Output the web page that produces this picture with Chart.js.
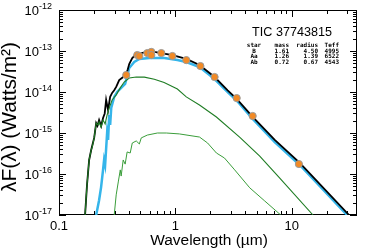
<!DOCTYPE html>
<html>
<head>
<meta charset="utf-8">
<script src="https://cdn.jsdelivr.net/npm/chart.js@4.4.1/dist/chart.umd.min.js"></script>
<style>
  html, body { margin: 0; padding: 0; background: #fff; }
  canvas { display: block; }
</style>
</head>
<body>
<canvas id="sed" width="365" height="252"></canvas>
<script>
// total model SED (black)
const totalLam = [0.1675, 0.174, 0.1815, 0.189, 0.2005, 0.2086, 0.214, 0.221, 0.230, 0.239, 0.247, 0.254, 0.264, 0.275, 0.286, 0.298, 0.310, 0.329, 0.356, 0.378, 0.390, 0.401, 0.426, 0.461, 0.509, 0.574, 0.659, 0.757, 0.942, 1.24, 1.61, 2.17, 2.81, 3.36, 4.61, 7.13, 11.7, 31.0];
const totalFlux = [1e-17, 5.4e-17, 2.2e-16, 3.85e-16, 7.6e-16, 1.75e-15, 1.5e-15, 2.07e-15, 1.48e-15, 2.32e-15, 3.0e-15, 6.4e-15, 3.6e-15, 7.6e-15, 9.5e-15, 1.1e-14, 1.33e-14, 1.96e-14, 2.32e-14, 2.75e-14, 3.6e-14, 4.8e-14, 6.7e-14, 8.45e-14, 8.9e-14, 9.5e-14, 9.5e-14, 8.9e-14, 7.97e-14, 6.4e-14, 4.56e-14, 2.32e-14, 1.1e-14, 6.76e-15, 2.46e-15, 6.8e-16, 1.86e-16, 1e-17];

// star B (cyan)
const starBLam = [0.2086, 0.221, 0.230, 0.239, 0.244, 0.249, 0.259, 0.264, 0.270, 0.275, 0.281, 0.298, 0.316, 0.342, 0.370, 0.401, 0.443, 0.49, 0.597, 0.803, 1.04, 1.24, 1.61, 2.17, 2.81, 3.36, 4.61, 7.13, 11.7, 29.8];
const starBFlux = [1e-17, 2.3e-17, 4.8e-17, 1.26e-16, 2.2e-16, 1.66e-16, 1e-15, 6.8e-16, 2.75e-15, 1.58e-15, 4.1e-15, 7.6e-15, 1e-14, 1.26e-14, 1.58e-14, 3.85e-14, 5.4e-14, 6.4e-14, 6.76e-14, 6.76e-14, 6.0e-14, 5.4e-14, 4.07e-14, 2.07e-14, 1.0e-14, 6.2e-15, 2.2e-15, 6.0e-16, 1.66e-16, 1e-17];

// star Aa (darker green)
const starAaLam = [0.1675, 0.174, 0.1815, 0.189, 0.193, 0.2005, 0.2086, 0.217, 0.221, 0.230, 0.239, 0.249, 0.259, 0.270, 0.286, 0.310, 0.336, 0.363, 0.401, 0.461, 0.541, 0.659, 0.80, 1.04, 1.24, 1.61, 2.25, 3.56, 5.30, 7.88, 15.2];
const starAaFlux = [1e-17, 5.4e-17, 2.2e-16, 3.85e-16, 4.6e-16, 7.6e-16, 1.75e-15, 1.57e-15, 1.86e-15, 1.4e-15, 2.07e-15, 1.66e-15, 2.75e-15, 4.1e-15, 6.4e-15, 8.5e-15, 1.26e-14, 1.75e-14, 2.2e-14, 2.32e-14, 2.3e-14, 2.05e-14, 1.7e-14, 1.18e-14, 7.6e-15, 4.8e-15, 2.45e-15, 7.9e-16, 2.74e-16, 7.9e-17, 1e-17];

// star Ab (lighter green)
const starAbLam = [0.298, 0.310, 0.323, 0.336, 0.342, 0.356, 0.370, 0.385, 0.409, 0.426, 0.461, 0.49, 0.509, 0.574, 0.700, 0.836, 1.08, 1.61, 1.89, 2.25, 2.64, 3.23, 4.35, 5.85, 8.03];
const starAbFlux = [1e-17, 3.1e-17, 6.4e-17, 1.26e-16, 8.9e-17, 2.2e-16, 1.74e-16, 3.45e-16, 3.25e-16, 5.7e-16, 6.4e-16, 5.4e-16, 7.6e-16, 8.9e-16, 1e-15, 1e-15, 9.5e-16, 7.97e-16, 5.7e-16, 3.25e-16, 2.45e-16, 1.26e-16, 4.6e-17, 2.2e-17, 1e-17];

// photometry (orange)
const photLam = [0.378, 0.470, 0.49, 0.574, 0.621, 0.621, 0.757, 0.942, 1.24, 1.64, 2.17, 3.36, 4.61, 11.5];
const photFlux = [2.6e-14, 7.97e-14, 7.55e-14, 8.9e-14, 9.5e-14, 7.97e-14, 8.9e-14, 7.55e-14, 6.0e-14, 4.3e-14, 2.32e-14, 7.1e-15, 2.6e-15, 1.75e-16];

const xTicks = [0.1, 1, 10];
const yTicks = [1e-12, 1e-13, 1e-14, 1e-15, 1e-16, 1e-17];

const tableHead = ["star", "mass", "radius", "Teff"];
const tableRows = [
  ["B", "1.61", "4.50", "4995"],
  ["Aa", "1.26", "1.39", "6522"],
  ["Ab", "0.72", "0.67", "4543"],
];

const SANS = '"Liberation Sans", Arial, sans-serif';

function toPoints(lam, flux) {
  return lam.map((l, i) => ({ x: l, y: flux[i] }));
}

function fitFont(ctx, text, width, weight) {
  let size = 20;
  ctx.font = `${weight || ""} ${size}px ${SANS}`;
  size = size * width / ctx.measureText(text).width;
  return `${weight || ""} ${size.toFixed(1)}px ${SANS}`;
}

const decorations = {
  id: "decorations",
  beforeDatasetsDraw(chart) {
    const { ctx, chartArea: a, scales } = chart;
    const xs = scales.x, ys = scales.y;
    ctx.save();
    ctx.strokeStyle = "#000";
    ctx.lineWidth = 1;
    ctx.strokeRect(a.left + 0.5, a.top + 0.5, a.right - a.left - 1, a.bottom - a.top - 1);

    ctx.beginPath();
    // x ticks, bottom and top
    for (let d = -1; d <= 1; d++) {
      for (let m = 1; m <= 9; m++) {
        const v = m * Math.pow(10, d);
        if (v < xs.min || v > xs.max) continue;
        const px = Math.round(xs.getPixelForValue(v)) + 0.5;
        const len = m === 1 ? 7 : 4;
        ctx.moveTo(px, a.bottom);
        ctx.lineTo(px, a.bottom - len);
        ctx.moveTo(px, a.top);
        ctx.lineTo(px, a.top + len);
      }
    }
    // y ticks, left and right
    for (let d = -17; d <= -13; d++) {
      for (let m = 1; m <= 9; m++) {
        const v = m * Math.pow(10, d);
        const py = Math.round(ys.getPixelForValue(v)) + 0.5;
        const len = m === 1 ? 7 : 4;
        ctx.moveTo(a.left, py);
        ctx.lineTo(a.left + len, py);
        ctx.moveTo(a.right, py);
        ctx.lineTo(a.right - len, py);
      }
    }
    ctx.stroke();
    ctx.restore();
  },
  afterDraw(chart) {
    const { ctx, chartArea: a, scales } = chart;
    const xs = scales.x, ys = scales.y;
    ctx.save();
    ctx.fillStyle = "#000";

    // x tick labels
    ctx.font = `13px ${SANS}`;
    ctx.textAlign = "center";
    ctx.textBaseline = "alphabetic";
    xTicks.forEach((v) => {
      ctx.fillText(String(v), xs.getPixelForValue(v), a.bottom + 15);
    });

    // y tick labels with superscript exponent
    yTicks.forEach((v) => {
      const py = ys.getPixelForValue(v);
      const exp = "-" + Math.round(-Math.log10(v));
      ctx.font = `9px ${SANS}`;
      ctx.textAlign = "right";
      const ew = ctx.measureText(exp).width;
      ctx.fillText(exp, a.left - 7, py - 1);
      ctx.font = `13px ${SANS}`;
      ctx.fillText("10", a.left - 7 - ew, py + 5);
    });

    // axis titles
    const xt = "Wavelength (\u00b5m)";
    ctx.font = fitFont(ctx, xt, 118);
    ctx.textAlign = "center";
    ctx.fillText(xt, (a.left + a.right) / 2 + 1, 245);

    const yt = "\u03bbF(\u03bb) (Watts/m\u00b2)";
    ctx.save();
    ctx.translate(16, 117);
    ctx.rotate(-Math.PI / 2);
    ctx.font = fitFont(ctx, yt, 150);
    ctx.textAlign = "center";
    ctx.fillText(yt, 0, 0);
    ctx.restore();

    // target name and parameter table
    ctx.font = fitFont(ctx, "TIC 37743815", 80);
    ctx.textAlign = "center";
    ctx.fillText("TIC 37743815", 292, 36);

    ctx.font = 'bold 6px "DejaVu Sans Mono", monospace';
    const colX = [254, 289, 318, 339];
    const rowY = [47, 52.5, 58, 63.5];
    [tableHead, ...tableRows].forEach((row, r) => {
      row.forEach((cell, c) => {
        ctx.textAlign = c === 0 ? "center" : "right";
        ctx.fillText(cell, colX[c], rowY[r]);
      });
    });
    ctx.restore();
  },
};

new Chart(document.getElementById("sed"), {
  type: "scatter",
  data: {
    datasets: [
      {
        label: "B",
        data: toPoints(starBLam, starBFlux),
        showLine: true,
        borderColor: "#35b5ea",
        borderWidth: 2.5,
        pointRadius: 0,
        order: 5,
      },
      {
        label: "total",
        data: toPoints(totalLam, totalFlux),
        showLine: true,
        borderColor: "#000",
        borderWidth: 1.8,
        pointRadius: 0,
        order: 4,
      },
      {
        label: "Aa",
        data: toPoints(starAaLam, starAaFlux),
        showLine: true,
        borderColor: "#1f7d24",
        borderWidth: 1.1,
        pointRadius: 0,
        order: 3,
      },
      {
        label: "Ab",
        data: toPoints(starAbLam, starAbFlux),
        showLine: true,
        borderColor: "#3a9d3a",
        borderWidth: 1,
        pointRadius: 0,
        order: 2,
      },
      {
        label: "phot",
        data: toPoints(photLam, photFlux),
        backgroundColor: "#f28a25",
        borderColor: "#9a9a9a",
        borderWidth: 1,
        pointRadius: 3.6,
        order: 1,
      },
    ],
  },
  options: {
    responsive: false,
    animation: false,
    layout: { padding: { left: 59, right: 8, top: 10, bottom: 37 } },
    plugins: { legend: { display: false }, tooltip: { enabled: false } },
    scales: {
      x: { type: "logarithmic", min: 0.1, max: 36.3, display: false },
      y: { type: "logarithmic", min: 1e-17, max: 1e-12, display: false },
    },
  },
  plugins: [decorations],
});
</script>
</body>
</html>
